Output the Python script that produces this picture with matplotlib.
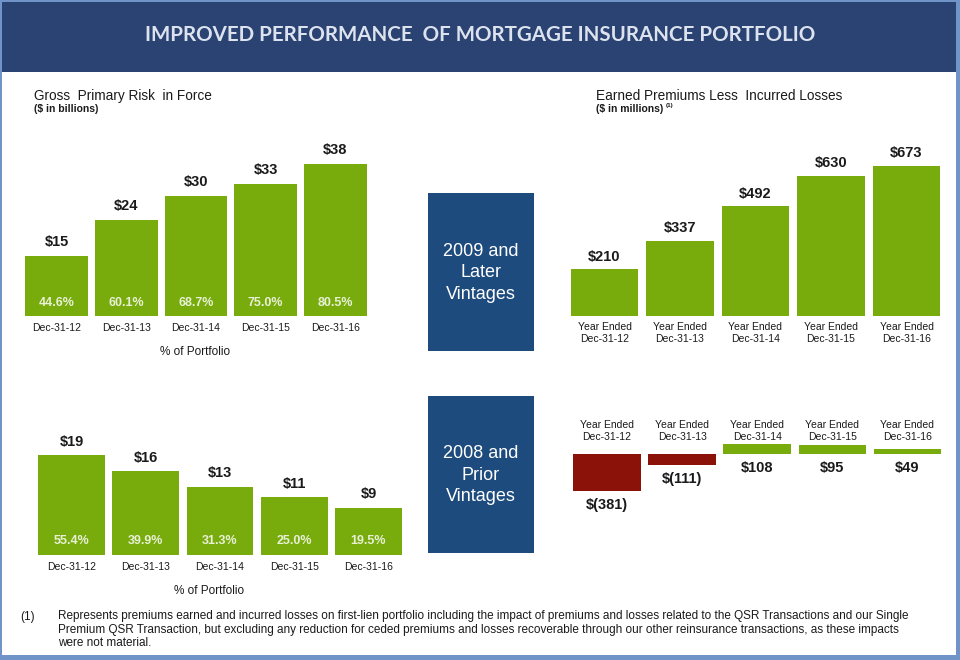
import matplotlib
matplotlib.use("Agg")
import matplotlib.pyplot as plt
from matplotlib.patches import Rectangle
from matplotlib import font_manager

# ---------------- data ----------------
dates = ['Dec-31-12', 'Dec-31-13', 'Dec-31-14', 'Dec-31-15', 'Dec-31-16']
year_labels = ['Year Ended\n' + d for d in dates]
risk_later = [15, 24, 30, 33, 38]
pct_later = ['44.6%', '60.1%', '68.7%', '75.0%', '80.5%']
risk_prior = [19, 16, 13, 11, 9]
pct_prior = ['55.4%', '39.9%', '31.3%', '25.0%', '19.5%']
prem_later = [210, 337, 492, 630, 673]
prem_prior = [-381, -111, 108, 95, 49]

title = 'IMPROVED PERFORMANCE  OF MORTGAGE INSURANCE PORTFOLIO'
left_title = 'Gross  Primary Risk  in Force'
left_sub = '($ in billions)'
right_title = 'Earned Premiums Less  Incurred Losses'
right_sub = '($ in millions)'
box1 = '2009 and\nLater\nVintages'
box2 = '2008 and\nPrior\nVintages'
footnote = ('Represents premiums earned and incurred losses on first-lien portfolio including the impact of premiums and losses related to the QSR Transactions and our Single\n'
            'Premium QSR Transaction, but excluding any reduction for ceded premiums and losses recoverable through our other reinsurance transactions, as these impacts\n'
            'were not material.')

# ---------------- style ----------------
GREEN = '#78AB0C'
RED = '#8B1208'
NAVY = '#2A4373'
BOX = '#1D4B7D'
FRAME = '#7094C8'
DARK = '#1A1A1A'
PCT = '#E8F0D6'

names = {f.name for f in font_manager.fontManager.ttflist}
REG = 'Liberation Sans'
TITLEF = 'Lato' if 'Lato' in names else 'DejaVu Sans'

W, H = 960, 660
fig = plt.figure(figsize=(W / 100, H / 100), dpi=100)
fig.patch.set_facecolor(FRAME)


def rect(x0, y0, x1, y1, color):
    fig.add_artist(Rectangle((x0 / W, 1 - y1 / H), (x1 - x0) / W, (y1 - y0) / H,
                             transform=fig.transFigure, facecolor=color, edgecolor='none', zorder=0))


def ftext(x, y, s, **kw):
    fig.text(x / W, 1 - y / H, s, **kw)


def axpx(x0, y0, x1, y1):
    ax = fig.add_axes([x0 / W, 1 - y1 / H, (x1 - x0) / W, (y1 - y0) / H])
    ax.set_facecolor('none')
    for s in ax.spines.values():
        s.set_visible(False)
    ax.set_xticks([])
    ax.set_yticks([])
    return ax


# frame / header
rect(2, 2, 956, 655, 'white')
rect(2, 2, 956, 72, NAVY)
ftext(480, 35, title, ha='center', va='center', color='#DDE3EE',
      fontsize=14.8, fontweight='bold', family=TITLEF)

# section titles
ftext(34, 96, left_title, ha='left', va='center', fontsize=9.8, color=DARK, family=REG)
ftext(34, 109, left_sub, ha='left', va='center', fontsize=7.5, fontweight='bold', color=DARK, family=REG)
ftext(596, 96, right_title, ha='left', va='center', fontsize=9.8, color=DARK, family=REG)
ftext(596, 109, right_sub, ha='left', va='center', fontsize=7.5, fontweight='bold', color=DARK, family=REG)
ftext(666, 105, '(1)', ha='left', va='center', fontsize=4.5, fontweight='bold', color=DARK, family=REG)

# middle boxes
rect(428, 193, 534, 351, BOX)
rect(428, 396, 534, 553, BOX)
ftext(481, 273, box1, ha='center', va='center', color='white', fontsize=13,
      family=REG, linespacing=1.35)
ftext(481, 475, box2, ha='center', va='center', color='white', fontsize=13,
      family=REG, linespacing=1.35)

x = list(range(len(dates)))


def gross_chart(x0, x1, ybase, ppu, ymax, vals, pcts, pct_y, tick_y, port_x, port_y, off):
    ytop = ybase - ppu * ymax
    ax = axpx(x0, ytop, x1, ybase)
    ax.set_xlim(-0.5, 4.5)
    ax.set_ylim(0, ymax)
    bars = ax.bar(x, vals, width=0.9, color=GREEN)
    for b, v in zip(bars, vals):
        ax.annotate(f'${v}', (b.get_x() + b.get_width() / 2, v), xytext=(0, off),
                    textcoords='offset points', ha='center', va='bottom',
                    fontsize=10.5, fontweight='bold', color=DARK, family=REG)
    for xi, p, d in zip(x, pcts, dates):
        xf = ax.transData.transform((xi, 0))[0]
        ftext(xf, pct_y, p, ha='center', va='center', fontsize=9, fontweight='bold',
              color=PCT, family=REG)
        ftext(xf, tick_y, d, ha='center', va='center', fontsize=7.5, color=DARK, family=REG)
    ftext(port_x, port_y, '% of Portfolio', ha='center', va='center', fontsize=8.5,
          color=DARK, family=REG)


gross_chart(21.7, 370, 316, 4.0, 45, risk_later, pct_later, 303, 328, 195, 352, 5)
gross_chart(34.4, 405.6, 555, 5.26, 25, risk_prior, pct_prior, 541, 567, 209, 591, 4.5)

# right top chart
ax = axpx(566.75, 316 - 0.223 * 800, 944.25, 316)
ax.set_xlim(-0.5, 4.5)
ax.set_ylim(0, 800)
bars = ax.bar(x, prem_later, width=0.9, color=GREEN)
for b, v in zip(bars, prem_later):
    ax.annotate(f'${v}', (b.get_x() + b.get_width() / 2, v), xytext=(0, 4),
                textcoords='offset points', ha='center', va='bottom',
                fontsize=10.5, fontweight='bold', color=DARK, family=REG)
for xi, lab in zip(x, year_labels):
    xf = ax.transData.transform((xi, 0))[0]
    ftext(xf, 333, lab, ha='center', va='center', fontsize=7.5, color=DARK,
          family=REG, linespacing=1.15)

# right bottom chart
ppu = 0.097
ax = axpx(569.5, 454 - ppu * 400, 945, 454 + ppu * 500)
ax.set_xlim(-0.5, 4.5)
ax.set_ylim(-500, 400)
cols = [GREEN if v >= 0 else RED for v in prem_prior]
bars = ax.bar(x, prem_prior, width=0.9, color=cols)
for xi, v, lab in zip(x, prem_prior, year_labels):
    txt = f'${v}' if v >= 0 else f'$({-v})'
    yref = min(v, 0)
    ax.annotate(txt, (xi, yref), xytext=(0, -5), textcoords='offset points',
                ha='center', va='top', fontsize=10.5, fontweight='bold', color=DARK, family=REG)
    xf = ax.transData.transform((xi, 0))[0]
    ftext(xf, 431, lab, ha='center', va='center', fontsize=7.5, color=DARK,
          family=REG, linespacing=1.15)

# footnote
ftext(20, 617, '(1)', ha='left', va='center', fontsize=8.5, color=DARK, family=REG)
ftext(58, 610, footnote, ha='left', va='top', fontsize=8.5, color=DARK, family=REG,
      linespacing=1.18)

fig.savefig('out.png', dpi=100, facecolor=fig.get_facecolor())
